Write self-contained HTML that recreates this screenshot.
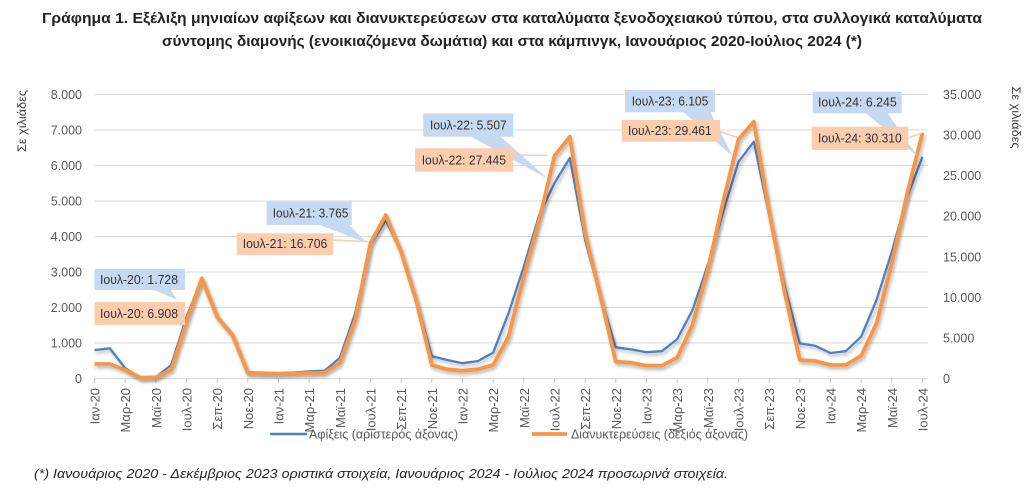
<!DOCTYPE html>
<html>
<head>
<meta charset="utf-8">
<style>
html,body{margin:0;padding:0;background:#fff;}
svg{display:block;}
text{font-family:"Liberation Sans","DejaVu Sans",sans-serif;}
</style>
</head>
<body>
<svg width="1024" height="497" viewBox="0 0 1024 497" xmlns="http://www.w3.org/2000/svg">
<defs>
<filter id="sh" x="-5%" y="-5%" width="110%" height="120%">
<feDropShadow dx="1.5" dy="2.5" stdDeviation="1.5" flood-color="#000" flood-opacity="0.28"/>
</filter>
</defs>
<rect width="1024" height="497" fill="#fff"/>

<!-- Title -->
<text x="512" y="23" text-anchor="middle" font-size="15" font-weight="bold" fill="#222" textLength="940" lengthAdjust="spacingAndGlyphs">Γράφημα 1. Εξέλιξη μηνιαίων αφίξεων και διανυκτερεύσεων στα καταλύματα ξενοδοχειακού τύπου, στα συλλογικά καταλύματα</text>
<text x="512" y="46" text-anchor="middle" font-size="15" font-weight="bold" fill="#222" textLength="700" lengthAdjust="spacingAndGlyphs">σύντομης διαμονής (ενοικιαζόμενα δωμάτια) και στα κάμπινγκ, Ιανουάριος 2020-Ιούλιος 2024 (*)</text>

<!-- Gridlines -->
<g stroke="#d9d9d9" stroke-width="1">
<line x1="94.5" y1="94.5" x2="928" y2="94.5"/>
<line x1="94.5" y1="130" x2="928" y2="130"/>
<line x1="94.5" y1="165.5" x2="928" y2="165.5"/>
<line x1="94.5" y1="201" x2="928" y2="201"/>
<line x1="94.5" y1="236.5" x2="928" y2="236.5"/>
<line x1="94.5" y1="272" x2="928" y2="272"/>
<line x1="94.5" y1="307.5" x2="928" y2="307.5"/>
<line x1="94.5" y1="343" x2="928" y2="343"/>
<line x1="94.5" y1="378.5" x2="928" y2="378.5"/>
</g>
<!-- ticks -->
<g stroke="#c8c8c8" stroke-width="1">
<line x1="94.5" y1="378.5" x2="94.5" y2="383"/>
<line x1="125.2" y1="378.5" x2="125.2" y2="383"/>
<line x1="155.8" y1="378.5" x2="155.8" y2="383"/>
<line x1="186.5" y1="378.5" x2="186.5" y2="383"/>
<line x1="217.2" y1="378.5" x2="217.2" y2="383"/>
<line x1="247.8" y1="378.5" x2="247.8" y2="383"/>
<line x1="278.5" y1="378.5" x2="278.5" y2="383"/>
<line x1="309.2" y1="378.5" x2="309.2" y2="383"/>
<line x1="339.8" y1="378.5" x2="339.8" y2="383"/>
<line x1="370.5" y1="378.5" x2="370.5" y2="383"/>
<line x1="401.2" y1="378.5" x2="401.2" y2="383"/>
<line x1="431.8" y1="378.5" x2="431.8" y2="383"/>
<line x1="462.5" y1="378.5" x2="462.5" y2="383"/>
<line x1="493.2" y1="378.5" x2="493.2" y2="383"/>
<line x1="523.8" y1="378.5" x2="523.8" y2="383"/>
<line x1="554.5" y1="378.5" x2="554.5" y2="383"/>
<line x1="585.2" y1="378.5" x2="585.2" y2="383"/>
<line x1="615.8" y1="378.5" x2="615.8" y2="383"/>
<line x1="646.5" y1="378.5" x2="646.5" y2="383"/>
<line x1="677.2" y1="378.5" x2="677.2" y2="383"/>
<line x1="707.8" y1="378.5" x2="707.8" y2="383"/>
<line x1="738.5" y1="378.5" x2="738.5" y2="383"/>
<line x1="769.2" y1="378.5" x2="769.2" y2="383"/>
<line x1="799.8" y1="378.5" x2="799.8" y2="383"/>
<line x1="830.5" y1="378.5" x2="830.5" y2="383"/>
<line x1="861.2" y1="378.5" x2="861.2" y2="383"/>
<line x1="891.8" y1="378.5" x2="891.8" y2="383"/>
<line x1="922.5" y1="378.5" x2="922.5" y2="383"/>
</g>

<!-- Left axis labels -->
<g font-size="12.5" fill="#595959" text-anchor="end">
<text x="82" y="99">8.000</text>
<text x="82" y="134.5">7.000</text>
<text x="82" y="170">6.000</text>
<text x="82" y="205.5">5.000</text>
<text x="82" y="241">4.000</text>
<text x="82" y="276.5">3.000</text>
<text x="82" y="312">2.000</text>
<text x="82" y="347.5">1.000</text>
<text x="82" y="383">0</text>
</g>
<!-- Right axis labels -->
<g font-size="12.5" fill="#595959" text-anchor="start">
<text x="943" y="99">35.000</text>
<text x="943" y="139.6">30.000</text>
<text x="943" y="180.1">25.000</text>
<text x="943" y="220.7">20.000</text>
<text x="943" y="261.3">15.000</text>
<text x="943" y="301.9">10.000</text>
<text x="943" y="342.4">5.000</text>
<text x="943" y="383">0</text>
</g>

<!-- Axis titles -->
<text transform="translate(26,121) rotate(-90)" text-anchor="middle" font-size="12" fill="#404040" textLength="62" lengthAdjust="spacingAndGlyphs">Σε χιλιάδες</text>
<text transform="translate(1012,117.5) rotate(90)" text-anchor="middle" font-size="12" fill="#404040" textLength="62" lengthAdjust="spacingAndGlyphs">Σε χιλιάδες</text>

<!-- X labels -->
<g font-size="13" fill="#595959" text-anchor="end">
<text transform="translate(99.5,388) rotate(-90)">Ιαν-20</text>
<text transform="translate(130.2,388) rotate(-90)">Μαρ-20</text>
<text transform="translate(160.8,388) rotate(-90)">Μαϊ-20</text>
<text transform="translate(191.5,388) rotate(-90)">Ιουλ-20</text>
<text transform="translate(222.2,388) rotate(-90)">Σεπ-20</text>
<text transform="translate(252.8,388) rotate(-90)">Νοε-20</text>
<text transform="translate(283.5,388) rotate(-90)">Ιαν-21</text>
<text transform="translate(314.2,388) rotate(-90)">Μαρ-21</text>
<text transform="translate(344.8,388) rotate(-90)">Μαϊ-21</text>
<text transform="translate(375.5,388) rotate(-90)">Ιουλ-21</text>
<text transform="translate(406.2,388) rotate(-90)">Σεπ-21</text>
<text transform="translate(436.8,388) rotate(-90)">Νοε-21</text>
<text transform="translate(467.5,388) rotate(-90)">Ιαν-22</text>
<text transform="translate(498.2,388) rotate(-90)">Μαρ-22</text>
<text transform="translate(528.8,388) rotate(-90)">Μαϊ-22</text>
<text transform="translate(559.5,388) rotate(-90)">Ιουλ-22</text>
<text transform="translate(590.2,388) rotate(-90)">Σεπ-22</text>
<text transform="translate(620.8,388) rotate(-90)">Νοε-22</text>
<text transform="translate(651.5,388) rotate(-90)">Ιαν-23</text>
<text transform="translate(682.2,388) rotate(-90)">Μαρ-23</text>
<text transform="translate(712.8,388) rotate(-90)">Μαϊ-23</text>
<text transform="translate(743.5,388) rotate(-90)">Ιουλ-23</text>
<text transform="translate(774.2,388) rotate(-90)">Σεπ-23</text>
<text transform="translate(804.8,388) rotate(-90)">Νοε-23</text>
<text transform="translate(835.5,388) rotate(-90)">Ιαν-24</text>
<text transform="translate(866.2,388) rotate(-90)">Μαρ-24</text>
<text transform="translate(896.8,388) rotate(-90)">Μαϊ-24</text>
<text transform="translate(927.5,388) rotate(-90)">Ιουλ-24</text>
</g>

<!-- Series: arrivals (blue) -->
<polyline filter="url(#sh)" fill="none" stroke="#4f81bd" stroke-width="2.3" stroke-linejoin="round" points="94.5,350.1 109.8,348.3 125.2,368.2 140.5,377.8 155.8,377.1 171.2,365.0 186.5,317.2 201.8,278.4 217.2,316.7 232.5,335.2 247.8,372.8 263.2,373.2 278.5,373.2 293.8,372.5 309.2,371.4 324.5,370.7 339.8,357.9 355.2,313.2 370.5,244.8 385.8,220.2 401.2,251.8 416.5,300.4 431.8,356.1 447.2,360.0 462.5,363.2 477.8,361.1 493.2,352.6 508.5,313.2 523.8,266.7 539.2,215.2 554.5,183.0 569.8,158.0 585.2,240.0 600.5,296.9 615.8,347.3 631.2,349.4 646.5,352.2 661.8,351.2 677.2,339.1 692.5,310.0 707.8,264.9 723.2,211.7 738.5,161.8 753.8,141.7 769.2,215.2 784.5,285.1 799.8,343.4 815.2,345.8 830.5,353.0 845.8,351.2 861.2,336.6 876.5,300.0 891.8,251.8 907.2,196.7 922.5,156.8"/>

<!-- Series: overnight stays (orange) -->
<polyline filter="url(#sh)" fill="none" stroke="#f79646" stroke-width="3.8" stroke-linejoin="round" points="94.5,364.0 109.8,364.0 125.2,370.0 140.5,377.7 155.8,377.3 171.2,370.0 186.5,322.4 201.8,278.3 217.2,316.8 232.5,335.0 247.8,372.8 263.2,373.3 278.5,373.6 293.8,373.6 309.2,373.2 324.5,372.7 339.8,363.1 355.2,320.1 370.5,242.9 385.8,215.0 401.2,251.9 416.5,301.4 431.8,365.1 447.2,369.3 462.5,370.7 477.8,369.3 493.2,365.0 508.5,336.7 523.8,276.7 539.2,220.3 554.5,155.8 569.8,136.7 585.2,233.3 600.5,296.5 615.8,361.7 631.2,362.7 646.5,365.7 661.8,365.7 677.2,357.6 692.5,324.9 707.8,269.8 723.2,201.6 738.5,139.4 753.8,121.7 769.2,211.7 784.5,291.7 799.8,360.0 815.2,361.0 830.5,365.0 845.8,365.0 861.2,355.8 876.5,323.3 891.8,263.3 907.2,193.5 922.5,132.6"/>

<!-- Callouts -->
<g font-size="12.5" fill="#333">
<!-- Jul-20 -->
<polygon points="152,289 170,289 177,300" fill="#c6d9f0"/>
<rect x="94.5" y="269" width="90.5" height="21" fill="#c6d9f0"/>
<text x="100" y="284" textLength="78" lengthAdjust="spacingAndGlyphs">Ιουλ-20: 1.728</text>
<rect x="94.5" y="302" width="90.5" height="23" fill="#f9cdae"/>
<text x="100" y="318" textLength="78" lengthAdjust="spacingAndGlyphs">Ιουλ-20: 6.908</text>

<!-- Jul-21 -->
<polygon points="317,224 348,224 367,243" fill="#c6d9f0"/>
<rect x="266.7" y="201.7" width="85" height="23.3" fill="#c6d9f0"/>
<text x="272.7" y="217.5" textLength="75.6" lengthAdjust="spacingAndGlyphs">Ιουλ-21: 3.765</text>
<line x1="333" y1="240" x2="368" y2="241.5" stroke="#f9cdae" stroke-width="1.5"/>
<rect x="236.7" y="233.3" width="96.6" height="21.7" fill="#f9cdae"/>
<text x="242.7" y="248" textLength="84.6" lengthAdjust="spacingAndGlyphs">Ιουλ-21: 16.706</text>

<!-- Jul-22 -->
<polygon points="470,136 500,136 548,179" fill="#c6d9f0"/>
<rect x="423.3" y="113.3" width="90" height="23.4" fill="#c6d9f0"/>
<text x="430" y="129.5" textLength="76.7" lengthAdjust="spacingAndGlyphs">Ιουλ-22: 5.507</text>
<line x1="513" y1="155" x2="548" y2="155.5" stroke="#f9cdae" stroke-width="1.5"/>
<rect x="415" y="148.3" width="98.3" height="23.4" fill="#f9cdae"/>
<text x="421.7" y="164.5" textLength="84.3" lengthAdjust="spacingAndGlyphs">Ιουλ-22: 27.445</text>

<!-- Jul-23 -->
<polygon points="683,111.5 710,111.5 733,157" fill="#c6d9f0"/>
<rect x="625" y="90" width="90" height="22.3" fill="#c6d9f0"/>
<text x="631.7" y="105.5" textLength="76.6" lengthAdjust="spacingAndGlyphs">Ιουλ-23: 6.105</text>
<line x1="720" y1="131.5" x2="737" y2="137.5" stroke="#f9cdae" stroke-width="1.5"/>
<rect x="621.7" y="120" width="98.3" height="21.7" fill="#f9cdae"/>
<text x="628" y="135" textLength="83.7" lengthAdjust="spacingAndGlyphs">Ιουλ-23: 29.461</text>

<!-- Jul-24 -->
<polygon points="865,112.5 887,112.5 918,156.7" fill="#c6d9f0"/>
<rect x="812.7" y="91.7" width="89" height="21.6" fill="#c6d9f0"/>
<text x="818" y="106.5" textLength="78.7" lengthAdjust="spacingAndGlyphs">Ιουλ-24: 6.245</text>
<line x1="908.3" y1="138" x2="921.7" y2="133" stroke="#f9cdae" stroke-width="1.5"/>
<rect x="811.7" y="126.7" width="96.6" height="23.3" fill="#f9cdae"/>
<text x="818" y="142.5" textLength="83.7" lengthAdjust="spacingAndGlyphs">Ιουλ-24: 30.310</text>
</g>

<!-- Legend -->
<line x1="270" y1="434" x2="307" y2="434" stroke="#4f81bd" stroke-width="2.5"/>
<text x="309" y="438.5" font-size="13" fill="#595959" textLength="149" lengthAdjust="spacingAndGlyphs">Αφίξεις (αριστερός άξονας)</text>
<line x1="532" y1="434" x2="567" y2="434" stroke="#f79646" stroke-width="3.8"/>
<text x="571" y="438.5" font-size="13" fill="#595959" textLength="177" lengthAdjust="spacingAndGlyphs">Διανυκτερεύσεις (δεξιός άξονας)</text>

<!-- Footnote -->
<text x="34" y="478" font-size="13" font-style="italic" fill="#262626" textLength="694" lengthAdjust="spacingAndGlyphs">(*) Ιανουάριος 2020 - Δεκέμβριος 2023 οριστικά στοιχεία, Ιανουάριος 2024 - Ιούλιος 2024 προσωρινά στοιχεία.</text>
</svg>
</body>
</html>
